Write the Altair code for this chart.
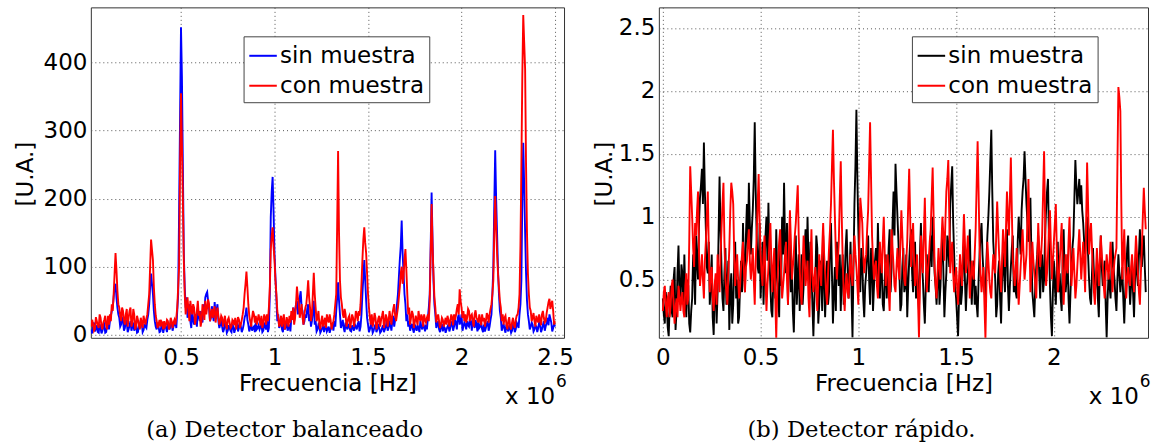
import altair as alt
import pandas as pd

SERIES = ["sin muestra", "con muestra"]

# ---------- panel (a): balanced detector, frequency in units of 1e6 Hz ----------
# samples on the 0.01 grid starting at 0.02
sin_a = [8, 12, 5, 14, 3, 10, 6, 15, 4, 18,
         20, 35, 55, 75, 40, 25, 15, 22, 10, 18,
         8, 20, 12, 6, 15, 4, 10, 18, 7, 12,
         22, 45, 90, 60, 20, 8, 12, 5, 14, 10,
         10, 15, 8, 18, 12, 20, 35, 185, 452, 250,
         70, 55, 30, 20, 35, 15, 25, 40, 20, 30,
         45, 55, 63, 40, 25, 30, 48, 35, 20, 15,
         12, 8, 15, 6, 10, 4, 12, 8, 20, 10,
         12, 8, 25, 40, 15, 10, 6, 12, 18, 10,
         8, 15, 6, 12, 20, 10, 173, 232, 120, 55,
         30, 15, 8, 20, 12, 6, 15, 25, 40, 35,
         50, 40, 64, 35, 20, 25, 45, 30, 20, 50,
         20, 8, 12, 6, 15, 10, 5, 12, 8, 15,
         20, 35, 77, 30, 15, 10, 18, 8, 12, 5,
         10, 15, 8, 20, 12, 60, 110, 50, 15, 8,
         12, 6, 15, 8, 10, 5, 14, 8, 20, 10,
         15, 20, 12, 30, 60, 110, 168, 90, 45, 30,
         20, 12, 8, 15, 6, 10, 20, 8, 12, 15,
         25, 60, 209, 80, 30, 15, 8, 12, 5, 10,
         8, 15, 10, 20, 12, 18, 25, 15, 30, 12,
         15, 20, 12, 18, 25, 10, 15, 20, 12, 8,
         15, 10, 20, 12, 30, 100, 271, 150, 60, 25,
         12, 8, 15, 5, 10, 6, 12, 8, 15, 30,
         80, 282, 150, 50, 20, 12, 15, 8, 12, 10,
         15, 8, 20, 12, 25, 30, 18, 10, 12]
# samples half-way between the ones above (0.025, 0.035, ...)
sin_a_mid = [2, 18, 9, 4, 16, 2, 12, 3, 14, 8,
             28, 40, 70, 55, 30, 12, 25, 6, 22, 4,
             14, 6, 18, 10, 3, 14, 22, 4, 16, 10,
             30, 70, 75, 35, 12, 18, 4, 12, 3, 16,
             4, 12, 20, 6, 16, 10, 60, 320, 380, 120,
             40, 25, 45, 10, 22, 30, 12, 28, 35, 18,
             35, 60, 50, 20, 42, 20, 30, 45, 10, 22,
             4, 18, 3, 14, 6, 16, 3, 15, 5, 18,
             4, 15, 30, 22, 5, 16, 10, 4, 8, 14,
             12, 4, 18, 8, 4, 60, 210, 180, 85, 20,
             10, 22, 4, 8, 18, 10, 5, 30, 20, 45,
             30, 55, 40, 15, 30, 38, 20, 12, 35, 15,
             5, 15, 3, 10, 4, 16, 8, 3, 12, 6,
             12, 55, 50, 10, 22, 4, 12, 16, 6, 14,
             6, 12, 16, 5, 30, 85, 80, 25, 4, 15,
             3, 12, 4, 16, 3, 10, 4, 12, 6, 18,
             6, 28, 22, 45, 85, 130, 120, 60, 20, 12,
             6, 16, 3, 10, 14, 4, 12, 16, 5, 8,
             40, 130, 140, 45, 10, 20, 4, 16, 12, 3,
             12, 5, 16, 6, 22, 8, 30, 20, 6, 18,
             8, 14, 24, 6, 16, 22, 5, 10, 18, 4,
             5, 16, 6, 22, 60, 190, 200, 95, 35, 6,
             16, 3, 10, 14, 3, 16, 4, 18, 10, 45,
             200, 220, 90, 30, 8, 18, 5, 14, 4, 18,
             4, 14, 6, 18, 14, 24, 5, 16]

con_a = [12, 16, 9, 20, 10, 25, 8, 22, 14, 28,
         30, 45, 60, 120, 65, 40, 20, 35, 15, 38,
         25, 40, 18, 30, 12, 22, 8, 18, 28, 15,
         30, 60, 140, 110, 45, 20, 15, 12, 18, 20,
         15, 20, 12, 20, 18, 15, 40, 100, 355, 200,
         60, 45, 35, 50, 30, 40, 25, 50, 35, 20,
         35, 50, 40, 45, 30, 25, 42, 30, 28, 20,
         25, 20, 15, 22, 18, 12, 20, 25, 18, 22,
         15, 30, 60, 93, 45, 20, 25, 30, 28, 22,
         22, 28, 18, 25, 30, 40, 125, 158, 110, 60,
         25, 18, 12, 30, 15, 20, 28, 35, 40, 25,
         71, 45, 35, 25, 30, 45, 80, 40, 30, 91,
         40, 25, 15, 20, 12, 25, 30, 18, 22, 15,
         30, 60, 270, 80, 45, 25, 30, 18, 28, 20,
         25, 20, 30, 35, 45, 110, 158, 120, 60, 25,
         30, 20, 25, 15, 28, 22, 35, 18, 25, 20,
         25, 30, 45, 20, 40, 70, 100, 85, 126, 60,
         40, 25, 30, 18, 22, 35, 20, 25, 30, 18,
         30, 50, 192, 90, 40, 25, 20, 15, 22, 18,
         15, 22, 20, 25, 30, 28, 45, 67, 40, 35,
         30, 25, 35, 28, 20, 30, 25, 18, 22, 30,
         25, 20, 28, 30, 45, 80, 204, 120, 70, 40,
         30, 25, 15, 20, 12, 18, 15, 22, 30, 60,
         250, 470, 390, 150, 60, 35, 25, 20, 28, 18,
         22, 30, 25, 20, 40, 53, 45, 35, 20]
con_a_mid = [22, 6, 26, 14, 30, 12, 18, 28, 8, 15,
             20, 35, 90, 95, 45, 28, 40, 22, 30, 12,
             35, 12, 38, 8, 28, 14, 25, 10, 20, 24,
             45, 100, 125, 70, 28, 10, 22, 20, 8, 12,
             22, 8, 25, 10, 22, 25, 70, 250, 280, 110,
             30, 55, 20, 38, 45, 15, 35, 28, 12, 45,
             22, 30, 52, 20, 38, 35, 18, 40, 15, 28,
             12, 28, 8, 25, 10, 22, 14, 8, 26, 10,
             22, 40, 75, 70, 28, 12, 35, 18, 15, 30,
             14, 10, 30, 15, 20, 70, 145, 130, 80, 35,
             12, 28, 22, 8, 26, 12, 18, 22, 15, 45,
             55, 25, 45, 15, 40, 60, 55, 20, 60, 60,
             20, 35, 8, 28, 18, 10, 22, 30, 8, 20,
             45, 160, 150, 55, 30, 38, 12, 25, 10, 30,
             12, 35, 20, 28, 75, 140, 135, 90, 40, 15,
             12, 32, 8, 24, 12, 28, 10, 30, 12, 35,
             15, 38, 28, 30, 55, 90, 75, 110, 95, 30,
             15, 35, 10, 28, 14, 25, 30, 12, 22, 25,
             20, 120, 130, 55, 18, 30, 10, 25, 12, 25,
             28, 12, 30, 14, 22, 38, 30, 50, 25, 20,
             18, 38, 20, 30, 12, 36, 22, 30, 14, 20,
             12, 32, 18, 38, 60, 150, 160, 90, 50, 20,
             15, 28, 8, 26, 8, 25, 10, 28, 40, 130,
             380, 430, 250, 90, 40, 20, 32, 12, 22, 30,
             14, 35, 18, 32, 48, 38, 50, 15]

# ---------- panel (b): fast detector, 0.01 grid starting at 0 ----------
sin_b = [0.35, 0.15, 0.30, 0.05, 0.45, 0.20, 0.60, 0.25, 0.77, 0.30,
         0.55, 0.70, 0.20, 0.45, 0.08, 0.35, 0.60, 0.85, 0.50, 1.15,
         1.38, 1.59, 0.90, 0.55, 0.30, 0.70, 0.06, 0.50, 0.40, 1.32,
         0.60, 0.25, 0.75, 0.45, 0.10, 0.55, 0.30, 0.80, 0.50, 0.20,
         0.65, 0.95, 0.40, 1.10, 1.27, 0.70, 1.05, 1.75, 0.85, 0.55,
         0.35, 0.80, 0.60, 1.00, 1.11, 0.45, 0.20, 0.65, 0.90, 0.40,
         0.75, 1.00, 1.27, 0.55, 0.30, 0.95, 0.60, 0.08, 0.85, 0.50,
         0.25, 0.70, 0.45, 0.90, 1.00, 0.35, 0.60, 0.05, 0.50, 0.75,
         0.30, 0.55, 0.85, 0.20, 0.65, 0.40, 0.95, 0.15, 0.60, 0.80,
         0.45, 0.25, 0.70, 0.50, 0.90, 0.35, 0.80, 0.04, 1.10, 1.85,
         0.90, 0.40, 0.65, 0.20, 0.55, 0.85, 0.30, 0.60, 0.45, 0.75,
         0.95, 0.35, 0.55, 0.25, 0.70, 0.50, 0.90, 0.60, 1.20, 1.42,
         1.00, 0.55, 0.30, 0.75, 0.45, 0.20, 0.65, 0.90, 0.40, 0.80,
         0.60, 0.25, 0.95, 0.50, 0.15, 0.70, 0.40, 0.85, 1.00, 0.55,
         0.30, 0.65, 0.45, 0.90, 0.20, 0.55, 0.75, 1.10, 1.40, 0.70,
         0.35, 0.05, 0.60, 0.40, 0.80, 0.25, 0.55, 0.90, 0.30, 0.65,
         0.45, 0.20, 0.70, 0.95, 0.55, 0.35, 0.85, 1.20, 1.69, 0.80,
         0.50, 0.30, 0.65, 0.15, 0.75, 0.40, 0.90, 0.25, 0.60, 0.85,
         0.55, 0.35, 1.00, 0.70, 1.20, 1.52, 1.10, 0.80, 1.15, 0.40,
         0.20, 0.60, 0.85, 0.35, 0.70, 0.50, 1.05, 1.30, 0.45, 0.05,
         0.65, 0.30, 0.80, 0.55, 0.25, 0.90, 0.40, 0.70, 0.15, 0.60,
         0.85, 1.45, 1.10, 1.30, 1.25, 0.95, 0.70, 1.00, 0.50, 0.30,
         0.75, 0.40, 0.60, 0.20, 0.85, 0.45, 0.65, 0.04, 0.55, 0.35,
         0.80, 0.50, 0.25, 0.70, 0.40, 0.60, 0.15, 0.55, 0.85, 0.30,
         0.65, 0.20, 0.75, 0.45, 0.90, 0.60, 0.85, 0.40]
sin_b_mid = [0.22, 0.40, 0.12, 0.30, 0.25, 0.50, 0.10, 0.55, 0.40, 0.62,
             0.30, 0.35, 0.50, 0.15, 0.25, 0.70, 0.30, 0.65, 0.95, 1.25,
             1.10, 1.20, 0.60, 0.80, 0.45, 0.20, 0.40, 0.15, 0.85, 0.90,
             0.35, 0.55, 0.30, 0.65, 0.40, 0.15, 0.62, 0.35, 0.15, 0.45,
             0.40, 0.60, 0.85, 0.75, 0.95, 0.90, 1.30, 1.20, 0.60, 0.95,
             0.55, 0.30, 0.85, 0.65, 0.70, 0.25, 0.50, 0.35, 0.55, 0.20,
             0.45, 0.70, 0.80, 0.95, 0.60, 0.40, 0.25, 0.45, 0.30, 0.70,
             0.50, 0.30, 0.75, 0.55, 0.65, 0.80, 0.30, 0.35, 0.85, 0.15,
             0.65, 0.25, 0.50, 0.45, 0.30, 0.75, 0.55, 0.40, 0.25, 0.60,
             0.70, 0.55, 0.30, 0.75, 0.60, 0.55, 0.40, 0.60, 1.40, 1.30,
             0.60, 0.75, 0.35, 0.45, 0.70, 0.50, 0.75, 0.25, 0.65, 0.50,
             0.60, 0.70, 0.30, 0.50, 0.35, 0.75, 0.40, 0.95, 0.85, 1.20,
             0.80, 0.25, 0.60, 0.40, 0.70, 0.45, 0.80, 0.55, 0.65, 0.35,
             0.40, 0.70, 0.65, 0.30, 0.45, 0.50, 0.70, 0.60, 0.80, 0.45,
             0.50, 0.30, 0.70, 0.55, 0.40, 0.85, 0.60, 1.25, 0.95, 0.45,
             0.20, 0.35, 0.30, 0.65, 0.50, 0.45, 0.70, 0.50, 0.55, 0.30,
             0.30, 0.50, 0.85, 0.70, 0.40, 0.65, 1.00, 1.45, 1.20, 0.65,
             0.20, 0.55, 0.35, 0.50, 0.55, 0.70, 0.45, 0.45, 0.75, 0.40,
             0.40, 0.80, 0.85, 1.05, 1.30, 1.30, 0.95, 1.00, 0.70, 0.30,
             0.45, 0.70, 0.55, 0.60, 0.40, 0.85, 1.20, 0.80, 0.20, 0.40,
             0.45, 0.60, 0.40, 0.35, 0.65, 0.55, 0.50, 0.35, 0.40, 0.75,
             1.15, 1.25, 1.20, 1.10, 1.05, 0.80, 0.85, 0.70, 0.35, 0.55,
             0.55, 0.50, 0.35, 0.60, 0.60, 0.55, 0.30, 0.35, 0.45, 0.60,
             0.60, 0.35, 0.50, 0.55, 0.50, 0.35, 0.40, 0.75, 0.50, 0.45,
             0.40, 0.50, 0.55, 0.70, 0.70, 0.75, 0.60]

con_b = [0.25, 0.45, 0.20, 0.40, 0.30, 0.50, 0.15, 0.35, 0.45, 0.25,
         0.40, 0.20, 0.55, 0.35, 1.40, 1.00, 0.60, 0.85, 1.20, 0.45,
         0.70, 0.35, 0.80, 1.20, 0.40, 0.60, 0.25, 0.55, 0.70, 0.40,
         0.90, 1.27, 0.50, 0.30, 0.75, 1.27, 1.10, 0.45, 0.70, 0.35,
         0.60, 0.80, 0.40, 0.65, 0.90, 0.50, 0.75, 0.30, 0.85, 1.34,
         0.70, 0.45, 0.85, 0.25, 0.60, 0.95, 0.40, 0.75, 0.03, 0.65,
         0.90, 0.35, 0.55, 0.80, 0.30, 1.05, 0.50, 0.70, 0.95, 1.25,
         0.60, 0.30, 0.85, 0.45, 0.65, 0.20, 0.90, 0.40, 0.60, 0.25,
         0.70, 0.45, 0.95, 0.55, 0.30, 0.75, 1.10, 1.69, 1.00, 0.50,
         0.80, 1.44, 0.65, 0.25, 0.55, 0.35, 0.70, 0.45, 0.85, 0.60,
         0.30, 1.15, 0.95, 0.55, 0.70, 1.05, 1.75, 0.85, 0.50, 0.65,
         0.35, 0.80, 0.55, 1.00, 0.45, 0.70, 0.25, 0.90, 0.60, 0.40,
         0.75, 0.50, 1.05, 0.65, 0.45, 0.80, 1.38, 0.60, 0.95, 0.45,
         0.70, 0.04, 0.85, 0.55, 1.15, 0.40, 0.65, 0.90, 1.39, 0.60,
         0.35, 0.75, 0.50, 1.00, 0.65, 1.20, 1.45, 0.55, 0.80, 0.40,
         0.60, 0.30, 0.70, 0.45, 1.02, 0.55, 0.85, 0.35, 0.65, 0.50,
         0.90, 1.60, 0.75, 0.40, 0.60, 0.03, 0.80, 0.50, 0.35, 0.70,
         0.55, 1.12, 0.70, 0.40, 0.90, 0.60, 1.20, 0.85, 1.47, 0.65,
         0.45, 0.75, 0.30, 0.60, 0.90, 0.50, 0.70, 1.30, 0.40, 0.80,
         0.55, 0.35, 0.95, 0.60, 0.85, 1.52, 0.45, 0.70, 1.05, 0.50,
         0.80, 1.10, 0.40, 0.65, 0.95, 0.30, 0.70, 0.55, 1.00, 0.45,
         0.75, 0.35, 0.60, 0.90, 0.50, 0.80, 0.40, 1.43, 0.70, 0.95,
         0.55, 0.30, 0.75, 0.45, 0.85, 0.60, 0.35, 0.70, 0.50, 0.80,
         0.40, 0.65, 0.75, 2.03, 1.84, 0.50, 0.90, 0.35, 0.60, 0.45,
         0.70, 0.40, 0.85, 0.55, 0.30, 0.75, 1.23, 0.90]
con_b_mid = [0.40, 0.30, 0.35, 0.20, 0.45, 0.30, 0.28, 0.20, 0.38, 0.35,
             0.25, 0.45, 0.30, 0.80, 1.20, 0.75, 0.95, 1.05, 0.70, 0.55,
             0.50, 0.65, 1.00, 0.75, 0.55, 0.35, 0.45, 0.30, 0.55, 0.70,
             1.10, 0.80, 0.40, 0.55, 1.05, 1.20, 0.70, 0.60, 0.50, 0.45,
             0.70, 0.55, 0.60, 0.80, 0.65, 0.60, 0.50, 0.65, 1.10, 0.95,
             0.55, 0.70, 0.50, 0.45, 0.80, 0.65, 0.60, 0.35, 0.40, 0.80,
             0.55, 0.45, 0.70, 0.50, 0.75, 0.80, 0.60, 0.85, 1.10, 0.85,
             0.40, 0.60, 0.65, 0.55, 0.35, 0.60, 0.55, 0.50, 0.40, 0.50,
             0.55, 0.75, 0.70, 0.40, 0.55, 0.90, 1.40, 1.30, 0.70, 0.65,
             1.15, 1.00, 0.40, 0.45, 0.40, 0.55, 0.55, 0.65, 0.70, 0.45,
             0.80, 1.05, 0.70, 0.65, 0.90, 1.40, 1.30, 0.65, 0.60, 0.45,
             0.60, 0.65, 0.80, 0.70, 0.60, 0.40, 0.60, 0.75, 0.45, 0.60,
             0.60, 0.80, 0.85, 0.50, 0.65, 1.10, 1.00, 0.80, 0.65, 0.55,
             0.35, 0.45, 0.70, 0.85, 0.75, 0.55, 0.80, 1.15, 1.00, 0.45,
             0.55, 0.60, 0.80, 0.85, 0.95, 1.30, 1.00, 0.70, 0.55, 0.50,
             0.45, 0.50, 0.55, 0.75, 0.80, 0.70, 0.60, 0.50, 0.55, 0.70,
             1.25, 1.20, 0.55, 0.50, 0.30, 0.45, 0.65, 0.40, 0.55, 0.60,
             0.85, 0.90, 0.55, 0.65, 0.75, 0.90, 1.00, 1.15, 1.05, 0.55,
             0.60, 0.50, 0.45, 0.75, 0.70, 0.60, 1.00, 0.85, 0.60, 0.65,
             0.45, 0.65, 0.75, 0.70, 1.20, 1.00, 0.55, 0.90, 0.75, 0.65,
             0.95, 0.75, 0.50, 0.80, 0.60, 0.50, 0.60, 0.80, 0.70, 0.60,
             0.55, 0.45, 0.75, 0.70, 0.65, 0.60, 0.95, 1.10, 0.85, 0.75,
             0.40, 0.55, 0.60, 0.65, 0.70, 0.45, 0.55, 0.60, 0.65, 0.60,
             0.55, 0.70, 1.40, 1.95, 1.10, 0.70, 0.60, 0.50, 0.50, 0.60,
             0.55, 0.65, 0.70, 0.40, 0.55, 1.00, 1.05]

xticks_a = [0.5, 1, 1.5, 2, 2.5]
yticks_a = [0, 100, 200, 300, 400]
xticks_b = [0, 0.5, 1, 1.5, 2]
yticks_b = [0.5, 1, 1.5, 2, 2.5]

SANS = "DejaVu Sans"
SERIF = "DejaVu Serif"


def weave(start, step, pts, mids):
    """Merge grid samples and half-step samples into one ordered series."""
    f, v = [], []
    for i, p in enumerate(pts):
        f.append(round(start + step * i, 4))
        v.append(p)
        if i < len(mids):
            f.append(round(start + step * i + step / 2, 4))
            v.append(mids[i])
    return f, v


def make_df(start, s, s_mid, c, c_mid):
    f1, v1 = weave(start, 0.01, s, s_mid)
    f2, v2 = weave(start, 0.01, c, c_mid)
    return pd.DataFrame({
        "f": f1 + f2,
        "v": v1 + v2,
        "serie": [SERIES[0]] * len(v1) + [SERIES[1]] * len(v2),
    })


def text_layer(txt, x, y, size, font=SANS, align="left"):
    return alt.Chart(pd.DataFrame({"t": [txt]})).mark_text(
        font=font, fontSize=size, align=align, baseline="alphabetic", color="black"
    ).encode(x=alt.value(x), y=alt.value(y), text="t:N")


def panel(df, colors, xdom, ydom, xvals, yvals, w, h, leg_x, ytitle_x,
          x10_x, caption, cap_x, anchor=False):
    color = alt.Color(
        "serie:N",
        scale=alt.Scale(domain=SERIES, range=colors),
        legend=alt.Legend(
            title=None, orient="none", legendX=leg_x, legendY=29,
            direction="vertical", symbolType="stroke", symbolSize=760,
            symbolStrokeWidth=2, labelFont=SANS, labelFontSize=23,
            labelColor="black", labelOffset=2, padding=4.5, rowPadding=3,
            strokeColor="#444", fillColor="white", cornerRadius=0, labelLimit=400,
        ),
    )
    x = alt.X(
        "f:Q",
        scale=alt.Scale(domain=xdom, nice=False, zero=False),
        axis=alt.Axis(
            values=xvals, format="~r", grid=True, gridDash=[1, 3], gridColor="#555",
            ticks=False, domain=False, labelFont=SANS, labelFontSize=23,
            labelColor="black", labelPadding=9, labelFlush=False, labelOverlap=False,
            title="Frecuencia [Hz]", titleFont=SANS, titleFontSize=23,
            titleFontWeight="normal", titleColor="black", titleY=53,
            titleBaseline="alphabetic",
        ),
    )
    y = alt.Y(
        "v:Q",
        scale=alt.Scale(domain=ydom, nice=False, zero=False),
        axis=alt.Axis(
            values=yvals, format="~r", grid=True, gridDash=[1, 3], gridColor="#555",
            ticks=False, domain=False, labelFont=SANS, labelFontSize=23,
            labelColor="black", labelPadding=4, labelFlush=False, labelOverlap=False,
            title="[U.A.]", titleFont=SANS, titleFontSize=23,
            titleFontWeight="normal", titleColor="black", titleAngle=270,
            titleX=ytitle_x, titleY=166.5, titleBaseline="middle", titleAlign="center",
        ),
    )
    base = alt.Chart(df)
    l1 = base.transform_filter(alt.datum.serie == SERIES[0]).mark_line(
        clip=True, strokeWidth=1.9).encode(x=x, y=y, color=color)
    l2 = base.transform_filter(alt.datum.serie == SERIES[1]).mark_line(
        clip=True, strokeWidth=1.9).encode(x=x, y=y, color=color)
    layers = [l1, l2,
              text_layer("x 10", x10_x, 397.3, 23),
              text_layer("6", x10_x + 51, 380.7, 17),
              text_layer(caption, cap_x, 430.7, 22.7, font=SERIF, align="center")]
    if anchor:
        layers.append(
            alt.Chart(pd.DataFrame({"a": [0]})).mark_rule(opacity=0, strokeWidth=0).encode(
                x=alt.value(-90), x2=alt.value(1063), y=alt.value(-6), y2=alt.value(438)
            )
        )
    return alt.layer(*layers).properties(width=w, height=h)


left = panel(make_df(0.02, sin_a, sin_a_mid, con_a, con_a_mid), ["#0000FF", "#FF0000"],
             [0.018, 2.548], [-4.4, 481.1], xticks_a, yticks_a, 474, 331,
             153, -65, 415, "(a) Detector balanceado", 194.2, anchor=True)
right = panel(make_df(0.0, sin_b, sin_b_mid, con_b, con_b_mid), ["#000000", "#FF0000"],
              [-0.0204, 2.4815], [0.037, 2.664], xticks_b, yticks_b, 490, 331,
              253.5, -54, 430.7, "(b) Detector rápido.", 203)

chart = alt.hconcat(left, right, spacing=95, bounds="flush").resolve_scale(
    color="independent"
).properties(padding=0, background="white").configure_view(
    stroke="#333", strokeWidth=1
)

chart.save("out.html", embed_options={"renderer": "svg", "actions": False})
